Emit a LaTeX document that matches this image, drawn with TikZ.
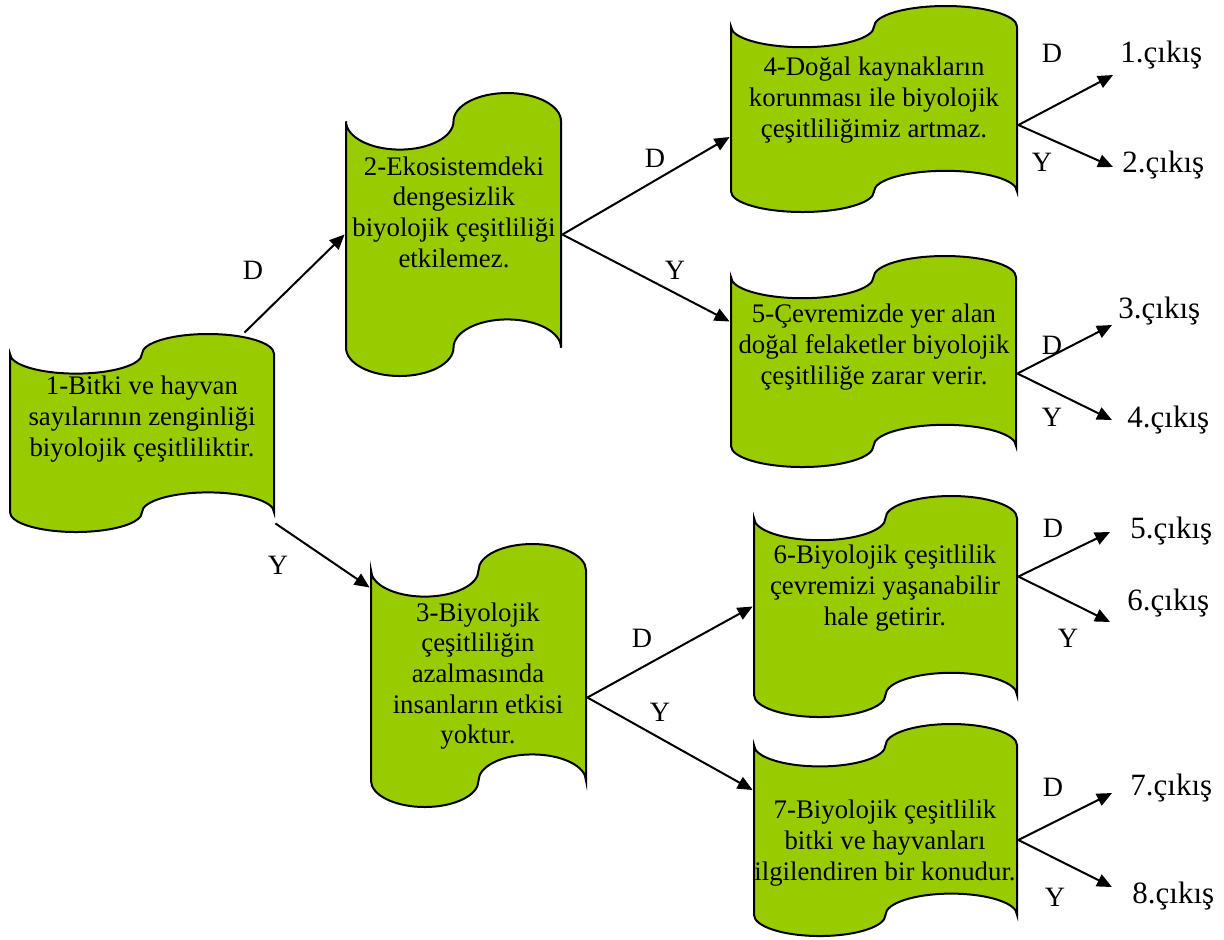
\documentclass[tikz,border=0pt]{standalone}
\usepackage{fontspec}
\setmainfont{Liberation Serif}
\usetikzlibrary{arrows.meta,calc}
\definecolor{yesil}{RGB}{153,204,0}

\tikzset{
  % delikli serit kutusu: ust ve alt kenar dalgali
  serit/.style={draw=none, inner sep=0pt,
    path picture={
      \filldraw[fill=yesil, draw=black, line width=1pt]
        let \p1=(path picture bounding box.north west),
            \p2=(path picture bounding box.south east),
            \n1={\x2-\x1-1pt}, \n2={\y1-\y2-1pt} in
        (\x1+0.5pt, \y1-0.5pt-\n2/10)
        arc[start angle=180, end angle=360, x radius=\n1/4, y radius=\n2/10]
        arc[start angle=180, end angle=0, x radius=\n1/4, y radius=\n2/10]
        -- (\x2-0.5pt, \y2+0.5pt+\n2/10)
        arc[start angle=0, end angle=180, x radius=\n1/4, y radius=\n2/10]
        arc[start angle=0, end angle=-180, x radius=\n1/4, y radius=\n2/10]
        -- cycle;
    }},
  metin/.style={align=center, inner sep=0pt, font=\fontsize{13.4}{15.3}\selectfont},
  etiket/.style={inner sep=0pt, font=\fontsize{14}{16}\selectfont},
  cikis/.style={inner sep=0pt, anchor=base west, font=\fontsize{15.5}{17}\selectfont},
  ok/.style={line width=1pt, -{Triangle[length=7.5pt,width=6.5pt]}}
}

\begin{document}
\begin{tikzpicture}[x=0.5pt, y=-0.5pt]
\useasboundingbox (0,0) rectangle (1224,939);

% kutular
\node[serit, minimum width=133pt, minimum height=100pt] (k1) at (142,433) {};
\node[serit, minimum width=108.5pt, minimum height=142.5pt] (k2) at (453.5,234.5) {};
\node[serit, minimum width=108.5pt, minimum height=132.5pt] (k3) at (478.5,675.5) {};
\node[serit, minimum width=144pt, minimum height=104pt] (k4) at (874,109) {};
\node[serit, minimum width=143.5pt, minimum height=106.5pt] (k5) at (873.5,361.5) {};
\node[serit, minimum width=132.5pt, minimum height=111.5pt] (k6) at (885.5,606.5) {};
\node[serit, minimum width=132.5pt, minimum height=107pt] (k7) at (885.5,830) {};

% kutu yazilari
\node[metin] (t1) at (142,419) {1-Bitki ve hayvan\\sayılarının zenginliği\\biyolojik çeşitliliktir.};
\node[metin] (t2) at (454,212) {2-Ekosistemdeki\\dengesizlik\\biyolojik çeşitliliği\\etkilemez.};
\node[metin] (t3) at (478,676) {3-Biyolojik\\çeşitliliğin\\azalmasında\\insanların etkisi\\yoktur.};
\node[metin] (t4) at (874,100) {4-Doğal kaynakların\\korunması ile biyolojik\\çeşitliliğimiz artmaz.};
\node[metin] (t5) at (874,347) {5-Çevremizde yer alan\\doğal felaketler biyolojik\\çeşitliliğe zarar verir.};
\node[metin] (t6) at (885,588) {6-Biyolojik çeşitlilik\\çevremizi yaşanabilir\\hale getirir.};
\node[metin] (t7) at (885,843) {7-Biyolojik çeşitlilik\\bitki ve hayvanları\\ilgilendiren bir konudur.};

% cikislar
\node[cikis] (c1) at (1120,62) {1.çıkış};
\node[cikis] (c2) at (1122,172) {2.çıkış};
\node[cikis] (c3) at (1118,318) {3.çıkış};
\node[cikis] (c4) at (1127,427) {4.çıkış};
\node[cikis] (c5) at (1130,538) {5.çıkış};
\node[cikis] (c6) at (1127,610) {6.çıkış};
\node[cikis] (c7) at (1130,795) {7.çıkış};
\node[cikis] (c8) at (1132,903) {8.çıkış};

% ok uclari
\coordinate (u1) at (1113,75);
\coordinate (u2) at (1113,167);
\coordinate (u3) at (1112,325);
\coordinate (u4) at (1112,420);
\coordinate (u5) at (1110,532);
\coordinate (u6) at (1110,622);
\coordinate (u7) at (1112,793);
\coordinate (u8) at (1112,887);

% baglantilar
\draw[ok] (k1) -- (k2.west);
\draw[ok] (k1) -- ([yshift=44pt]k3.west);
\draw[ok] (k2.east) -- ([yshift=-14pt]k4.west);
\draw[ok] (k2.east) -- ([yshift=20pt]k5.west);
\draw[ok] ([yshift=-11pt]k3.east) -- (k6.west);
\draw[ok] ([yshift=-11pt]k3.east) -- ([yshift=20pt]k7.west);
\draw[ok] ([yshift=-8pt]k4.east) -- (u1);
\draw[ok] ([yshift=-8pt]k4.east) -- (u2);
\draw[ok] ([yshift=-6pt]k5.east) -- (u3);
\draw[ok] ([yshift=-6pt]k5.east) -- (u4);
\draw[ok] ([yshift=15pt]k6.east) -- (u5);
\draw[ok] ([yshift=15pt]k6.east) -- (u6);
\draw[ok] ([yshift=-5pt]k7.east) -- (u7);
\draw[ok] ([yshift=-5pt]k7.east) -- (u8);

% D / Y etiketleri
\node[etiket] (d12) at (253,270) {D};
\node[etiket] (y13) at (278,565) {Y};
\node[etiket] (d24) at (655,158) {D};
\node[etiket] (y25) at (675,270) {Y};
\node[etiket] (d36) at (642,638) {D};
\node[etiket] (y37) at (660,712) {Y};
\node[etiket] (d4) at (1052,53) {D};
\node[etiket] (y4) at (1042,162) {Y};
\node[etiket] (d5) at (1052,345) {D};
\node[etiket] (y5) at (1052,417) {Y};
\node[etiket] (d6) at (1053,528) {D};
\node[etiket] (y6) at (1068,638) {Y};
\node[etiket] (d7) at (1053,787) {D};
\node[etiket] (y7) at (1055,897) {Y};
\end{tikzpicture}
\end{document}
